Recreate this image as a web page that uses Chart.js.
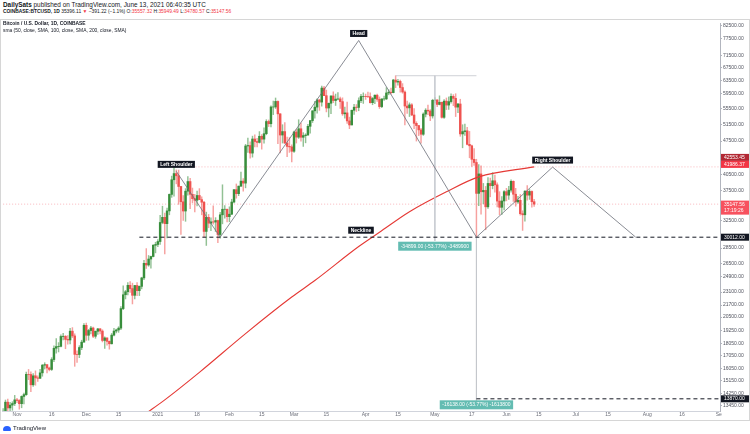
<!DOCTYPE html>
<html lang="en">
<head>
<meta charset="UTF-8">
<title>BTCUSD 1D - Head and Shoulders</title>
<script src="https://cdn.jsdelivr.net/npm/chart.js@4.4.0/dist/chart.umd.min.js"></script>
<style>
  body { margin:0; width:750px; height:434px; background:#fff; position:relative; overflow:hidden;
         font-family:"Liberation Sans", Arial, sans-serif; color:#131722; }
  .txt { position:absolute; left:3px; white-space:nowrap; line-height:1; }
  .red { color:#f23645; }
  #wrap { position:absolute; left:0; top:19px; width:750px; height:401px; }
  #frame { position:absolute; left:0; top:19px; width:748px; height:400px; border:1px solid #d6d6d6; pointer-events:none; }
  #logo { position:absolute; left:3px; top:425px; font-size:6px; color:#131722; white-space:nowrap; }
  #logo i { display:inline-block; width:8px; height:5px; background:#2962ff; border-radius:4px 4px 1px 1px; margin-right:2px; vertical-align:-1px; }
</style>
</head>
<body>
<div class="txt" style="top:2px;font-size:6.4px;"><b>DailySats</b> published on TradingView.com, June 13, 2021 06:40:35 UTC</div>
<div class="txt" style="top:10px;font-size:4.9px;"><b>COINBASE:BTCUSD, 1D</b> 35396.11 <span class="red">▼</span> −391.22 (−1.1%) O:<span class="red">35557.32</span> H:<span class="red">35949.49</span> L:<span class="red">34780.57</span> C:<span class="red">35147.56</span></div>

<div id="wrap"><canvas id="btc"></canvas></div>
<div id="frame"></div>
<div class="txt" style="top:22px;font-size:4.9px;font-weight:bold;">Bitcoin / U.S. Dollar, 1D, COINBASE</div>
<div class="txt" style="top:29px;font-size:4.9px;">sma (50, close, SMA, 100, close, SMA, 200, close, SMA)</div>
<div id="logo"><i></i>TradingView</div>

<script>
// daily candles, 2020-10-26 .. 2021-06-13 (one value per day)
const opens = [
  13030,13070,13650,13280,13460,13560,
  13800,13760,13550,14030,14150,15590,15580,14830,15480,15330,15300,15700,16290,16330,16070,15960,16730,17660,17800,17820,18680,18700,18420,18370,19160,18730,17150,17140,17720,18180,
  19700,18790,19220,19450,18700,19150,19370,19170,18330,18550,18250,18040,18800,19170,19270,19440,21340,22800,23130,23850,23480,22740,23830,23250,23730,24710,26490,26280,27040,27370,28880,
  28990,29400,32200,33000,32020,34030,36820,39480,40670,40240,38240,35540,34010,37390,39150,36830,36070,35800,36630,35910,35470,30850,33000,32090,32290,32260,32500,30400,33400,34300,34300,
  33100,33500,35500,37660,36950,38300,39230,38860,46400,46500,44850,47970,47400,47200,48600,47940,49200,52150,51600,55900,55900,57400,54090,48890,49700,47060,46300,46200,
  45240,49600,48400,50370,48370,48760,48880,50970,52380,54880,55860,57800,57220,61180,59000,55630,56900,58920,57650,58030,58100,57350,54100,54340,52300,51300,55030,55840,55780,57620,58780,
  58800,58740,58720,57060,58200,59130,57990,56000,58090,58100,59770,59990,59860,63580,62960,63160,61340,60040,56150,55660,56470,53800,51700,51150,50110,49070,54030,55040,54830,53560,
  57710,57800,56580,57170,53200,57480,56410,57350,58800,58250,55860,56700,49150,49700,49880,46760,46440,43540,42880,37000,40600,37280,37530,34700,38800,38390,39290,38540,35660,34620,35680,
  37300,36690,37570,39190,36850,35520,35800,33580,33400,37390,36690,37340,35557
];
const highs = [
  13240,13790,13860,13640,13680,14100,
  13900,13820,14070,14250,15750,15960,15770,15650,15850,15480,15960,16340,16480,16330,16140,16880,17860,18490,18140,18820,18970,18760,18770,19420,19490,18920,17450,17880,18350,19870,
  19920,19330,19600,19530,19180,19420,19410,19290,18640,18560,18290,18950,19410,19350,19570,21560,23800,23280,24170,24290,24100,23840,24150,23780,24790,26870,28420,27500,27410,28990,29300,
  29680,33300,34800,33660,34500,36900,40180,41950,41380,41350,38250,36600,37850,40100,39750,37950,36850,37400,37850,36400,35600,33830,33460,32940,34880,32950,32560,33800,38550,34900,34330,
  34700,35980,37660,38700,38320,40950,39700,46750,48200,47320,48630,48950,48140,49700,49000,50580,52600,52530,56200,57500,58350,57530,54180,51360,51900,48400,48300,46650,
  49800,50200,52600,51770,49450,49200,51450,52400,54900,57400,58100,58000,61800,61700,60600,56950,58980,60100,59450,59900,58600,58400,55850,57200,53250,55100,56600,56550,58400,59350,59800,
  59450,60000,59800,58500,59250,59450,58650,58150,58850,61300,60700,61200,63800,64900,63800,63550,62500,60400,57500,57000,56800,55450,52100,51200,50500,54350,55450,56400,55200,58000,
  58450,57900,58950,57200,57900,58350,58650,59500,59300,59550,56850,58000,51350,51500,50700,49750,46600,45800,43550,42450,42200,38800,38250,39900,39800,40850,40400,38900,37300,36450,37500,
  37900,38250,39480,39290,37900,36480,36800,34050,37500,38400,37690,37440,35949
];
const lows = [
  12780,13060,12920,12990,13130,13430,
  13620,13200,13290,13530,14100,15200,14350,14720,14800,15080,15280,15450,15990,15700,15850,15880,16560,17250,17350,17770,18370,17620,18000,18020,18580,16200,16500,16880,17540,18180,
  18330,18350,18900,18580,18520,18860,18920,18200,17650,17910,17580,18020,18720,19000,19050,19300,21230,22350,22770,23060,21820,22350,22700,22710,23450,24510,25850,26120,25880,27330,27850,
  28700,29000,32000,27700,29900,33400,36300,36500,38720,35110,30420,32530,32380,36700,34400,35360,33850,34850,35900,33400,30070,28850,31400,30970,31950,30830,29240,29870,31990,32860,32300,
  32300,33420,35370,36160,36600,38200,37400,37990,45000,43800,43990,46200,46200,47050,45700,47050,48950,50900,50800,53900,55500,46900,44900,47050,46900,44100,45000,43000,
  45000,47050,48100,47500,46300,47100,48880,49300,51900,53000,54300,55000,56100,59000,54600,53300,54150,57050,56300,57800,55500,53700,53000,51700,50400,51300,53950,54700,54900,57050,56850,
  57950,58470,56900,56500,56800,57400,55500,55700,57650,57900,59250,59400,59800,61300,62050,60000,59700,51300,54200,53400,53650,50400,47500,48750,47000,48800,53300,53850,52350,53000,
  57000,56000,56450,53000,52900,55200,55250,56900,56250,53400,54400,48600,46000,48800,46650,43850,42100,42300,30000,34900,33500,35200,31100,34450,36400,37800,37200,34700,33400,33450,34200,
  35700,35950,37200,35600,34800,35250,33350,31000,32400,35800,35950,34650,34781
];
const closes = [
  13070,13650,13280,13460,13560,13800,
  13760,13550,14030,14150,15590,15580,14830,15480,15330,15300,15700,16290,16330,16070,15960,16730,17660,17800,17820,18680,18700,18420,18370,19160,18730,17150,17140,17720,18180,19700,
  18790,19220,19450,18700,19150,19370,19170,18330,18550,18250,18040,18800,19170,19270,19440,21340,22800,23130,23850,23480,22740,23830,23250,23730,24710,26490,26280,27040,27370,28880,28990,
  29400,32200,33000,32020,34030,36820,39480,40670,40240,38240,35540,34010,37390,39150,36830,36070,35800,36630,35910,35470,30850,33000,32090,32290,32260,32500,30400,33400,34300,34300,33100,
  33500,35500,37660,36950,38300,39230,38860,46400,46500,44850,47970,47400,47200,48600,47940,49200,52150,51600,55900,55900,57400,54090,48890,49700,47060,46300,46200,45240,
  49600,48400,50370,48370,48760,48880,50970,52380,54880,55860,57800,57220,61180,59000,55630,56900,58920,57650,58030,58100,57350,54100,54340,52300,51300,55030,55840,55780,57620,58780,58800,
  58740,58720,57060,58200,59130,57990,56000,58090,58100,59770,59990,59860,63580,62960,63160,61340,60040,56150,55660,56470,53800,51700,51150,50110,49070,54030,55040,54830,53560,57710,
  57800,56580,57170,53200,57480,56410,57350,58800,58250,55860,56700,49150,49700,49880,46760,46440,43540,42880,37000,40600,37280,37530,34700,38800,38390,39290,38540,35660,34620,35680,37300,
  36690,37570,39190,36850,35520,35800,33580,33400,37390,36690,37340,35550,35148
];

// 200-day SMA
const smaDates  = ['2020-12-27','2021-01-04','2021-01-19','2021-02-08','2021-02-28','2021-03-10','2021-03-29','2021-04-07','2021-04-20','2021-05-06','2021-05-20','2021-06-13'];
const smaValues = [12950, 13800, 15740, 18940, 22550, 24400, 28700, 30720, 33890, 37280, 40030, 41986];

// head & shoulders drawing
const hsDates  = ['2021-01-09','2021-01-28','2021-03-29','2021-05-19','2021-06-21','2021-07-27'];
const hsPrices = [41100, 30012, 76800, 30012, 41950, 30012];
const neckline = 30012;
const target = 13870;
const measureTop = 64899;
const lastPrice = 35147.56;
const smaLast = 41986.37;

const xTickDates = ['2020-11-01','2020-11-16','2020-12-01','2020-12-15','2021-01-01','2021-01-18','2021-02-01','2021-02-15','2021-03-01','2021-03-15','2021-04-01','2021-04-15','2021-05-01','2021-05-17','2021-06-01','2021-06-15','2021-07-01','2021-07-15','2021-08-01','2021-08-16','2021-09-01'];
const xTickText  = ['Nov','16','Dec','15','2021','18','Feb','15','Mar','15','Apr','15','May','17','Jun','15','Jul','15','Aug','16','Se'];
const yTicks = [82500,77500,71500,67500,63500,59500,55500,51500,47500,40500,37500,32500,28500,26500,24900,23100,21700,20500,19250,18050,17050,16050,15150,14250,13450];

const notes = [
  { date:'2021-01-09', price:41100, text:'Left Shoulder' },
  { date:'2021-03-29', price:76800, text:'Head' },
  { date:'2021-03-30', price:30012, text:'Neckline' },
  { date:'2021-06-21', price:41950, text:'Right Shoulder' }
];
const measures = [
  { date:'2021-05-01', price:30012, text:'-34899.00 (-53.77%) -3489900', dy:9 },
  { date:'2021-05-19', price:13870, text:'-16138.00 (-53.77%) -1613800', dy:6 }
];
const axisBoxes = [
  { price:smaLast, text:['42553.45'], bg:'#b22833', dy:-9.5 },
  { price:smaLast, text:['41986.37'], bg:'#f23645', dy:-2.5 },
  { price:lastPrice, text:['35147.56','17:19:26'], bg:'#f7525f', dy:0 },
  { price:neckline, text:['30012.00'], bg:'#131722', dy:0 },
  { price:target, text:['13870.00'], bg:'#131722', dy:0 }
];

const labels = [];
for (let d = new Date(Date.UTC(2020, 9, 26)); d <= new Date(Date.UTC(2021, 8, 1)); d.setUTCDate(d.getUTCDate() + 1)) {
  labels.push(d.toISOString().slice(0, 10));
}
const first = labels[0], last = labels[labels.length - 1];

const UP = '#388e3c', DOWN = '#ef5350';
const isUp = i => closes[i] >= opens[i];
const pts = (ds, vs) => ds.map((d, i) => ({ x: d, y: vs[i] }));
const seg = (d1, v1, d2, v2) => [{ x: d1, y: v1 }, { x: d2, y: v2 }];
const lineDs = (data, color, width, dash, order) => ({
  type: 'line', data, borderColor: color, borderWidth: width, borderDash: dash || [],
  pointRadius: 0, fill: false, order
});

const overlay = {
  id: 'overlay',
  afterDraw(chart) {
    const { ctx, chartArea, scales: { x, y } } = chart;
    ctx.save();
    ctx.textAlign = 'center';
    ctx.textBaseline = 'middle';

    ctx.font = 'bold 5px "Liberation Sans"';
    notes.forEach(n => {
      const px = x.getPixelForValue(labels.indexOf(n.date));
      const py = y.getPixelForValue(n.price) - 7;
      const w = ctx.measureText(n.text).width + 5;
      ctx.fillStyle = '#131722';
      ctx.fillRect(px - w / 2, py - 3.5, w, 7);
      ctx.fillStyle = '#fff';
      ctx.fillText(n.text, px, py + 0.3);
    });

    ctx.font = '5px "Liberation Sans"';
    measures.forEach(m => {
      const px = x.getPixelForValue(labels.indexOf(m.date));
      const py = y.getPixelForValue(m.price) + m.dy;
      const w = ctx.measureText(m.text).width + 5;
      ctx.fillStyle = '#63bcb2';
      ctx.fillRect(px - w / 2, py - 4.5, w, 9);
      ctx.fillStyle = '#fff';
      ctx.fillText(m.text, px, py + 0.3);
    });

    ctx.textAlign = 'left';
    axisBoxes.forEach(b => {
      const py = y.getPixelForValue(b.price) + b.dy;
      const h = 7 * b.text.length;
      ctx.fillStyle = b.bg;
      ctx.fillRect(chartArea.right + 1, py - 3.5, chart.width - chartArea.right - 2, h);
      ctx.fillStyle = '#fff';
      b.text.forEach((t, k) => ctx.fillText(t, chartArea.right + 4, py + 0.3 + k * 6.5));
    });
    ctx.restore();
  }
};

new Chart(document.getElementById('btc'), {
  type: 'bar',
  data: {
    labels,
    datasets: [
      lineDs(pts(hsDates, hsPrices), '#6b6e78', 0.8, null, 1),
      lineDs(seg('2020-12-24', neckline, last, neckline), '#131722', 1, [4, 3], 1),
      lineDs(seg('2021-05-19', target, last, target), '#131722', 1, [4, 3], 1),
      lineDs(seg('2021-04-14', measureTop, '2021-05-19', measureTop), '#c3c5cc', 0.8, null, 2),
      lineDs(seg('2021-05-01', measureTop, '2021-05-01', 29500), '#c3c5cc', 0.8, null, 2),
      lineDs(seg('2021-05-19', neckline, '2021-05-19', 13600), '#c3c5cc', 0.8, null, 2),
      lineDs(seg(first, lastPrice, last, lastPrice), 'rgba(242,54,69,0.45)', 0.8, [1, 2], 2),
      lineDs(seg('2021-01-16', smaLast, last, smaLast), 'rgba(242,54,69,0.45)', 0.8, [1, 2], 2),
      Object.assign(lineDs(pts(smaDates, smaValues), '#e53935', 1.1, null, 3), { cubicInterpolationMode: 'monotone' }),
      {
        label: 'body', data: opens.map((o, i) => [o, closes[i]]), grouped: false, order: 4,
        barThickness: 1.8, backgroundColor: c => isUp(c.dataIndex) ? UP : DOWN
      },
      {
        label: 'wick', data: lows.map((l, i) => [l, highs[i]]), grouped: false, order: 5,
        barThickness: 0.8, backgroundColor: c => isUp(c.dataIndex) ? 'rgba(56,142,60,0.55)' : 'rgba(239,83,80,0.55)'
      }
    ]
  },
  options: {
    responsive: true,
    maintainAspectRatio: false,
    animation: false,
    layout: { padding: { top: 1, left: 2, right: 0, bottom: 0 } },
    plugins: { legend: { display: false }, tooltip: { enabled: false } },
    scales: {
      x: {
        type: 'category',
        offset: true,
        grid: { display: false, drawTicks: false },
        border: { display: true, color: '#d1d4dc' },
        afterFit: s => { s.height = 9; },
        afterBuildTicks: s => { s.ticks = xTickDates.map(d => ({ value: labels.indexOf(d) })); },
        ticks: {
          autoSkip: false, maxRotation: 0, padding: 1, color: '#6a6d78',
          font: { family: 'Liberation Sans', size: 5 },
          callback: v => xTickText[xTickDates.indexOf(labels[v])]
        }
      },
      y: {
        type: 'logarithmic',
        position: 'right',
        min: 13086,
        max: 83480,
        bounds: 'data',
        grid: { display: true, drawOnChartArea: false, tickLength: 2, color: '#b2b5be' },
        border: { display: true, color: '#b2b5be' },
        afterFit: s => { s.width = 30; },
        afterBuildTicks: s => { s.ticks = yTicks.map(v => ({ value: v })); },
        ticks: {
          padding: 1, color: '#50535e',
          font: { family: 'Liberation Sans', size: 5 },
          callback: v => Number(v).toFixed(2)
        }
      }
    }
  },
  plugins: [overlay]
});
</script>
</body>
</html>
